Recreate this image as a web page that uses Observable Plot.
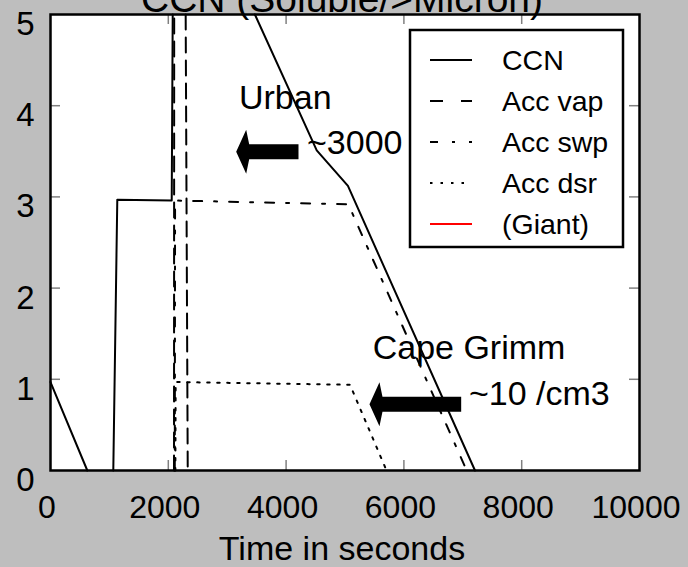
<!DOCTYPE html>
<html>
<head>
<meta charset="utf-8">
<script src="https://cdn.jsdelivr.net/npm/d3@7"></script>
<script src="https://cdn.jsdelivr.net/npm/@observablehq/plot@0.6"></script>
<style>
html, body { margin: 0; padding: 0; background: #bebebe; }
#chart { width: 688px; height: 567px; overflow: hidden; }
#chart svg { display: block; }
</style>
</head>
<body>
<div id="chart"></div>
<script>
// ---- text ----
const title = "CCN (Soluble/>Micron)";
const xLabel = "Time in seconds";
const xTicks = [0, 2000, 4000, 6000, 8000, 10000];
const yTicks = [0, 1, 2, 3, 4, 5];

// ---- series ----
const seriesNames = ["CCN", "Acc vap", "Acc swp", "Acc dsr", "(Giant)"];
const seriesColors = ["black", "black", "black", "black", "red"];

// values (null = break in the curve / off-scale part)
const ccnTime   = [0, 625, null, 1066, 1134, 2058, 2075, null, 3470, 4520, 5050, 7207];
const ccnValue  = [0.97, 0, null, 0, 2.97, 2.96, 5, null, 5, 3.51, 3.12, 0];
const vapTime   = [2097, 2100, null, 2295, 2330];
const vapValue  = [0, 5, null, 5, 0];
const swpTime   = [2110, 2115, 5056, 7066];
const swpValue  = [0, 2.96, 2.92, 0];
const dsrTime   = [2120, 2125, 5085, 5705];
const dsrValue  = [0, 0.97, 0.94, 0];
const giantTime = [];
const giantValue = [];

// ---- annotations ----
const annoText = ["Urban", "~3000", "Cape Grimm", "~10 /cm3"];
const annoX = [3200, 4355, 5470, 7105];
const annoY = [4.08, 3.59, 1.34, 0.84];
const arrowTip  = [3161, 5424];
const arrowTail = [4219, 6981];
const arrowY    = [3.49, 0.72];

// ---- styles ----
const FONT = "'Liberation Sans', Arial, Helvetica, sans-serif";
const lineDash = [null, "15,8", "9,12,3,12", "2.5,7.5", null];
const legendDash = [null, "13,18", "8,14,3,14", "2.5,8", null];

function rows(ts, vs) {
  return ts.map((t, i) => ({t: t == null ? NaN : t, v: vs[i] == null ? NaN : vs[i]}));
}
const seriesData = [
  rows(ccnTime, ccnValue),
  rows(vapTime, vapValue),
  rows(swpTime, swpValue),
  rows(dsrTime, dsrValue),
  rows(giantTime, giantValue)
];
const annotations = annoText.map((s, i) => ({s, x: annoX[i], y: annoY[i]}));

const W = 688, H = 567;
const mL = 50, mR = 49, mT = 14, mB = 97;
const innerW = W - mL - mR, innerH = H - mT - mB;
const TICK = 10;

const arrowMark = (index, scales) => {
  const g = d3.create("svg:g");
  arrowTip.forEach((tip, i) => {
    const x0 = scales.x(tip), x1 = scales.x(arrowTail[i]), yc = scales.y(arrowY[i]);
    const pts = [[x0, yc], [x0 + 10, yc - 22], [x0 + 13, yc - 7.5], [x1, yc - 7.5],
                 [x1, yc + 7.5], [x0 + 13, yc + 7.5], [x0 + 10, yc + 22]];
    g.append("path").attr("d", "M" + pts.map(p => p.join(",")).join("L") + "Z").attr("fill", "black");
  });
  return g.node();
};

const legendMark = () => {
  const g = d3.create("svg:g").attr("font-family", FONT).attr("text-anchor", "start");
  const bx = 410, by = 30, bw = 213, bh = 217;
  g.append("rect").attr("x", bx).attr("y", by).attr("width", bw).attr("height", bh)
    .attr("fill", "white").attr("stroke", "black").attr("stroke-width", 2.5);
  seriesNames.forEach((name, i) => {
    const yy = by + 30 + i * 41;
    const ln = g.append("line").attr("x1", bx + 20).attr("x2", bx + 62).attr("y1", yy).attr("y2", yy)
      .attr("stroke", seriesColors[i]).attr("stroke-width", 2);
    if (legendDash[i]) ln.attr("stroke-dasharray", legendDash[i]);
    g.append("text").attr("x", bx + 92).attr("y", yy).attr("dy", "0.35em")
      .attr("text-anchor", "start").attr("font-size", 28.5).attr("fill", "black").text(name);
  });
  return g.node();
};

const txt = {fill: "black", fontFamily: FONT, lineAnchor: "middle"};

const marks = [
  Plot.frame({fill: "white"}),
  ...seriesData.map((d, i) => Plot.line(d, {
    x: "t", y: "v", stroke: seriesColors[i], strokeWidth: 2,
    strokeDasharray: lineDash[i] || undefined
  })),
  // inward ticks
  Plot.ruleX(xTicks.slice(1, -1), {x: d => d, insetTop: innerH - TICK, stroke: "#808080", strokeWidth: 1.5}),
  Plot.ruleX(xTicks.slice(1, -1), {x: d => d, insetBottom: innerH - TICK, stroke: "#808080", strokeWidth: 1.5}),
  Plot.ruleY(yTicks.slice(1, -1), {y: d => d, insetRight: innerW - TICK, stroke: "#808080", strokeWidth: 1.5}),
  Plot.ruleY(yTicks.slice(1, -1), {y: d => d, insetLeft: innerW - TICK, stroke: "#808080", strokeWidth: 1.5}),
  Plot.frame({stroke: "black", strokeWidth: 2.5}),
  // tick labels
  Plot.text(xTicks, {...txt, x: d => d, text: d => String(d), frameAnchor: "bottom", textAnchor: "middle",
    dy: 37, dx: -3.5, fontSize: 32}),
  Plot.text(yTicks, {...txt, y: d => d, text: d => String(d), frameAnchor: "left", textAnchor: "end",
    dx: -16, dy: 10, fontSize: 33}),
  // axis label and title
  Plot.text([xLabel], {...txt, text: d => d, frameAnchor: "bottom", textAnchor: "middle", dy: 79, dx: -3, fontSize: 34}),
  Plot.text([title], {...txt, text: d => d, frameAnchor: "top", textAnchor: "middle", dy: -14.5, dx: -3, fontSize: 39}),
  // annotations
  arrowMark,
  Plot.text(annotations, {...txt, x: "x", y: "y", text: "s", textAnchor: "start", fontSize: 34}),
  legendMark
];

const chart = Plot.plot({
  width: W, height: H,
  marginLeft: mL, marginRight: mR, marginTop: mT, marginBottom: mB,
  x: {domain: [0, 10000], axis: null},
  y: {domain: [0, 5], axis: null},
  style: {background: "#bebebe", fontFamily: FONT, overflow: "hidden"},
  marks
});
document.getElementById("chart").appendChild(chart);
</script>
</body>
</html>
